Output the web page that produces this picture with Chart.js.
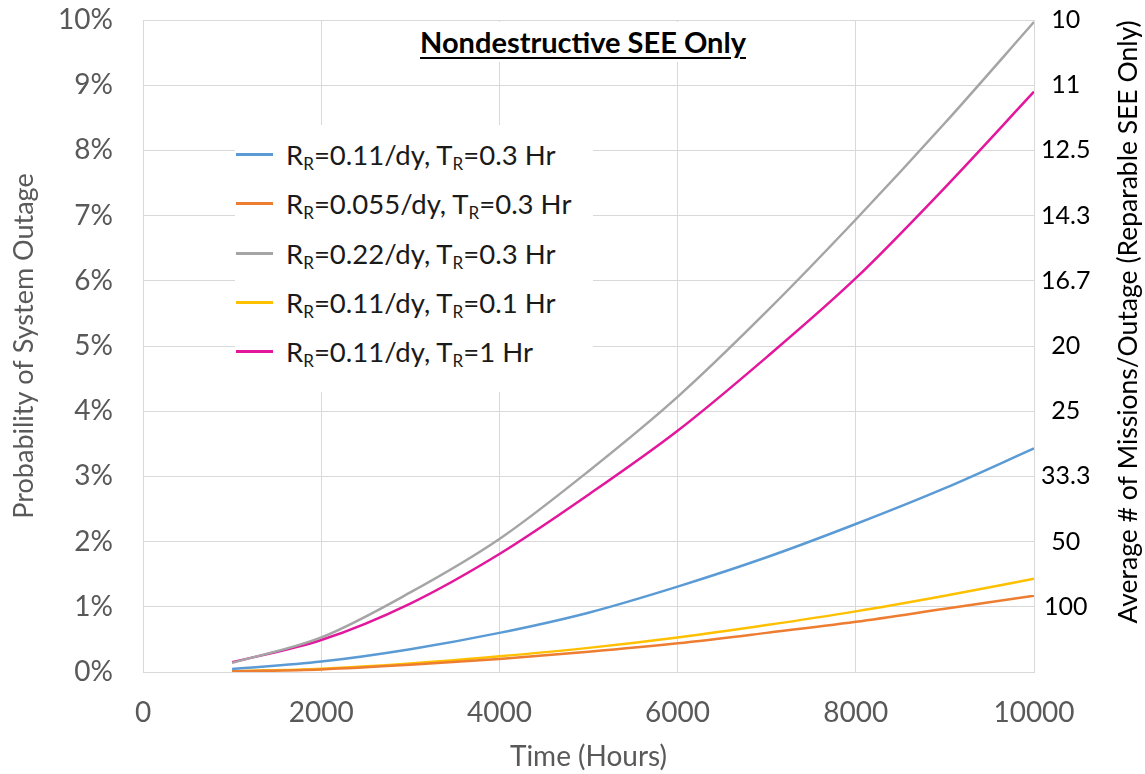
<!DOCTYPE html>
<html>
<head>
<meta charset="utf-8">
<script src="https://cdn.jsdelivr.net/npm/chart.js@4.4.1/dist/chart.umd.min.js"></script>
<style>
body { margin: 0; background: #fff; }
#wrap { position: relative; width: 1145px; height: 774px; font-family: Lato, sans-serif; }
#chart { position: absolute; left: 0; top: 0; }
#title { position: absolute; left: 400px; top: 22px; width: 366px; text-align: center; font-weight: bold; font-size: 29px;
  text-decoration: underline; text-underline-offset: 4px; background: #fff; color: #000; line-height: 40px; }
#legend { position: absolute; left: 235px; top: 125px; width: 358px; height: 267px; background: #fff; }
.row { position: absolute; left: 0; height: 40px; width: 358px; }
.swatch { position: absolute; left: 1px; top: 18px; width: 37px; height: 3px; }
.txt { position: absolute; left: 51px; top: 0; line-height: 40px; font-size: 27.5px; color: #1a1a1a; white-space: nowrap; }
.txt sub { font-size: 0.62em; vertical-align: -0.3em; }
</style>
</head>
<body>
<div id="wrap">
  <canvas id="chart" width="1145" height="774"></canvas>
  <div id="title">Nondestructive SEE Only</div>
  <div id="legend"></div>
</div>
<script>
// time in hours
var hours = [1000, 2000, 3000, 4000, 5000, 6000, 7000, 8000, 9000, 10000];

// probability of system outage, percent
var rr011_tr03 = [0.045, 0.16, 0.35, 0.60, 0.91, 1.31, 1.76, 2.27, 2.82, 3.43];
var rr0055_tr03 = [0.01, 0.04, 0.11, 0.20, 0.31, 0.44, 0.60, 0.77, 0.97, 1.17];
var rr022_tr03 = [0.14, 0.53, 1.22, 2.04, 3.08, 4.22, 5.53, 6.94, 8.42, 9.97];
var rr011_tr01 = [0.01, 0.05, 0.13, 0.24, 0.37, 0.53, 0.72, 0.93, 1.17, 1.43];
var rr011_tr1 = [0.15, 0.49, 1.05, 1.81, 2.72, 3.70, 4.83, 6.04, 7.43, 8.90];

var rates = ['0.11', '0.055', '0.22', '0.11', '0.11'];
var repairTimes = ['0.3', '0.3', '0.3', '0.1', '1'];
var colors = ['#5B9BD5', '#ED7D31', '#A5A5A5', '#FFC000', '#E3179C'];

// right axis: average # of missions per outage at each percent gridline
var missionLabels = ['', '100', '50', '33.3', '25', '20', '16.7', '14.3', '12.5', '11', '10'];

var allSeries = [rr011_tr03, rr0055_tr03, rr022_tr03, rr011_tr01, rr011_tr1];

function toPoints(vals) {
  return hours.map(function(h, i) { return {x: h, y: vals[i]}; });
}

var datasets = allSeries.map(function(vals, i) {
  return {
    label: 'RR=' + rates[i] + '/dy, TR=' + repairTimes[i] + ' Hr',
    data: toPoints(vals),
    borderColor: colors[i],
    backgroundColor: colors[i],
    borderWidth: 2.5,
    pointRadius: 0,
    cubicInterpolationMode: 'monotone',
    fill: false
  };
});

// html legend (needs subscripts)
var legend = document.getElementById('legend');
var rowCenters = [30, 79, 129, 178, 227];
for (var i = 0; i < rates.length; i++) {
  var row = document.createElement('div');
  row.className = 'row';
  row.style.top = (rowCenters[i] - 20) + 'px';
  row.innerHTML = '<div class="swatch" style="background:' + colors[i] + '"></div>' +
    '<div class="txt">R<sub>R</sub>=' + rates[i] + '/dy, T<sub>R</sub>=' + repairTimes[i] + ' Hr</div>';
  legend.appendChild(row);
}

var rightTitle = {
  id: 'rightTitle',
  afterDraw: function(chart) {
    var ctx = chart.ctx;
    var area = chart.chartArea;
    ctx.save();
    ctx.translate(chart.scales.y2.right - 17, (area.top + area.bottom) / 2 - 24);
    ctx.rotate(-Math.PI / 2);
    ctx.font = '26.5px Lato';
    ctx.fillStyle = '#000';
    ctx.textAlign = 'center';
    ctx.textBaseline = 'middle';
    ctx.fillText('Average # of Missions/Outage (Reparable SEE Only)', 0, 0);
    ctx.restore();
  }
};

function noEdgePadding(s) {
  s.paddingTop = 0;
  s.paddingBottom = 0;
}

var gridColor = '#d9d9d9';
var ctx = document.getElementById('chart').getContext('2d');
new Chart(ctx, {
  type: 'line',
  data: { datasets: datasets },
  options: {
    responsive: false,
    animation: false,
    layout: { padding: { top: 20, left: 0, right: 0, bottom: 0 } },
    plugins: { legend: { display: false }, tooltip: { enabled: false } },
    scales: {
      x: {
        type: 'linear', min: 0, max: 10000,
        ticks: { stepSize: 2000, color: '#595959', font: { family: 'Lato', size: 28 }, padding: 24, maxRotation: 0,
          callback: function(v) { return String(v); } },
        grid: { color: gridColor, drawTicks: false },
        border: { color: gridColor },
        title: { display: true, text: 'Time (Hours)', color: '#595959', font: { family: 'Lato', size: 28 }, padding: { top: 0, bottom: 0 } },
        afterFit: function(s) { s.height = 102; }
      },
      y: {
        position: 'left', min: 0, max: 10,
        ticks: { stepSize: 1, color: '#595959', font: { family: 'Lato', size: 28 }, padding: 30,
          callback: function(v) { return v + '%'; } },
        grid: { color: gridColor, drawTicks: false },
        border: { color: gridColor },
        title: { display: true, text: 'Probability of System Outage', color: '#595959', font: { family: 'Lato', size: 27 }, padding: { top: 8, bottom: 0 } },
        afterFit: function(s) { s.width = 143; noEdgePadding(s); }
      },
      y2: {
        position: 'right', min: 0, max: 10,
        ticks: { stepSize: 1, color: '#000', font: { family: 'Lato', size: 25 }, padding: 7, crossAlign: 'center',
          callback: function(v) { return missionLabels[Math.round(v)]; } },
        grid: { drawOnChartArea: false, drawTicks: false },
        border: { display: false },
        afterFit: function(s) { s.width = 111; noEdgePadding(s); }
      }
    }
  },
  plugins: [rightTitle]
});
</script>
</body>
</html>
